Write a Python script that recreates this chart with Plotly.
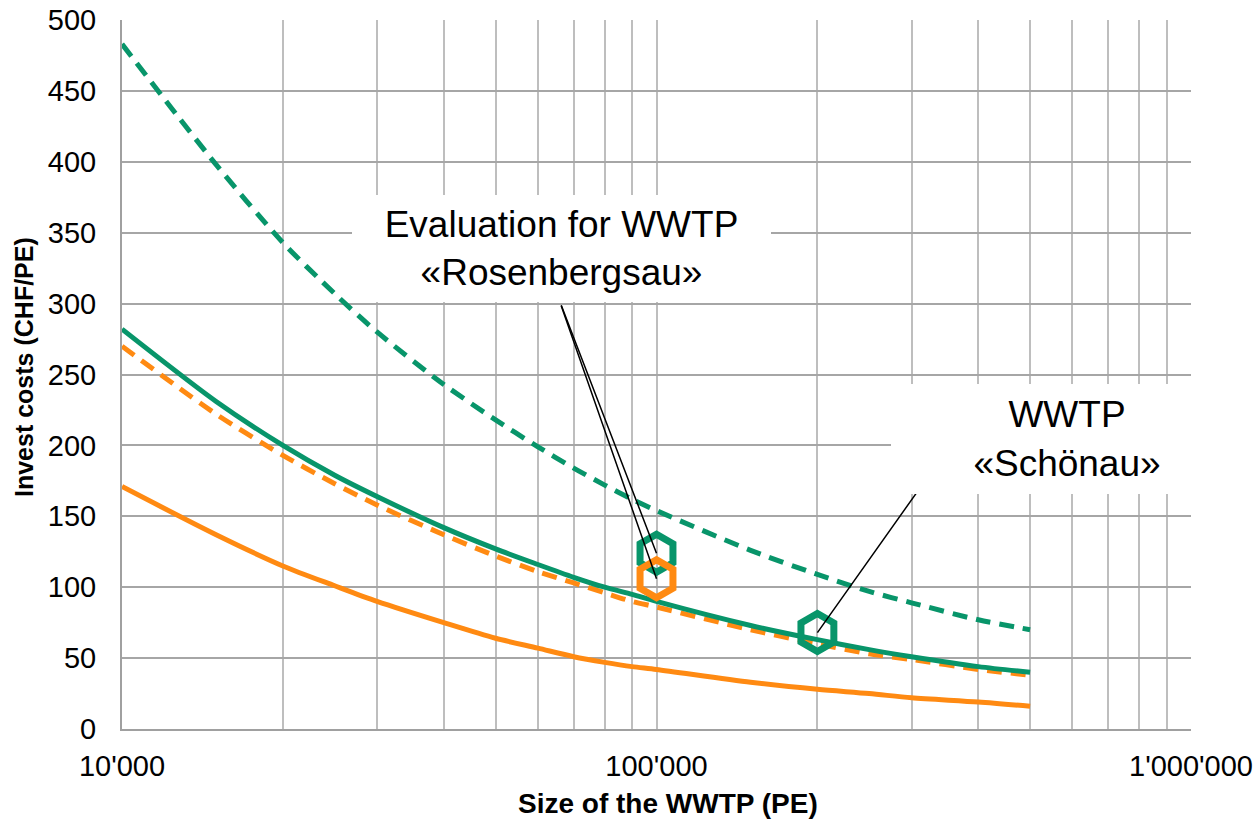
import math
import plotly.graph_objects as go

# Plant size (PE)
size_pe = [10000, 15000, 20000, 25000, 30000, 40000, 50000, 60000, 70000, 80000,
           90000, 100000, 150000, 200000, 250000, 300000, 400000, 500000]

# Invest costs (CHF/PE)
green_dashed = [483, 398, 343, 307, 280, 243, 218, 199, 184, 172, 162, 154, 126, 109, 97, 89, 77, 70]
green_solid = [282, 231, 200, 179, 164, 142, 127, 116, 107, 100, 95, 90, 73, 63, 56, 51, 44, 40]
orange_dashed = [270, 222, 193, 173, 158, 137, 122, 111, 103, 96, 90, 86, 70, 60, 53, 49, 42, 38]
orange_solid = [171, 137, 115, 101, 90, 75, 64, 57, 51, 47, 44, 42, 33, 28, 25, 22, 19, 16]

# Evaluated plants
rosen_size = 100000
rosen_green = 124
rosen_orange = 106
schoenau_size = 200000
schoenau_green = 68

x_tickvals = [10000, 100000, 1000000]
x_ticktext = ["10'000", "100'000", "1'000'000"]

GREEN = "#08956A"
ORANGE = "#FF8A12"
FONT = "Liberation Sans, Arial, sans-serif"

fig = go.Figure()

fig.add_trace(go.Scatter(x=size_pe, y=green_dashed, mode="lines",
                         line=dict(color=GREEN, width=5, dash="15px,9px", shape="spline", smoothing=0.8),
                         showlegend=False))
fig.add_trace(go.Scatter(x=size_pe, y=orange_dashed, mode="lines",
                         line=dict(color=ORANGE, width=5, dash="15px,9px", shape="spline", smoothing=0.8),
                         showlegend=False))
fig.add_trace(go.Scatter(x=size_pe, y=green_solid, mode="lines",
                         line=dict(color=GREEN, width=5, shape="spline", smoothing=0.8), showlegend=False))
fig.add_trace(go.Scatter(x=size_pe, y=orange_solid, mode="lines",
                         line=dict(color=ORANGE, width=5, shape="spline", smoothing=0.8), showlegend=False))

fig.add_trace(go.Scatter(x=[rosen_size, schoenau_size], y=[rosen_green, schoenau_green], mode="markers",
                         marker=dict(symbol="hexagon", size=38, color="rgba(0,0,0,0)",
                                     line=dict(width=7, color=GREEN)), showlegend=False))
fig.add_trace(go.Scatter(x=[rosen_size], y=[rosen_orange], mode="markers",
                         marker=dict(symbol="hexagon", size=38, color="rgba(0,0,0,0)",
                                     line=dict(width=7, color=ORANGE)), showlegend=False))

# connector lines (no arrowheads)
for (xv, yv, ax, ay) in [(rosen_size, rosen_green, -96, -250),
                         (rosen_size, rosen_orange, -96, -275),
                         (schoenau_size, schoenau_green, 122, -172)]:
    fig.add_annotation(x=math.log10(xv), y=yv, xref="x", yref="y", text=" ",
                       font=dict(size=1), showarrow=True, arrowhead=0, arrowwidth=1.5,
                       arrowcolor="black", ax=ax, ay=ay, standoff=0, startstandoff=0)

# text boxes
fig.add_annotation(xref="paper", yref="paper", x=(561.5 - 122) / 1069, y=(729 - 248.5) / 709,
                   xanchor="center", yanchor="middle",
                   text="Evaluation for WWTP<br>«Rosenbergsau»", showarrow=False,
                   font=dict(family=FONT, size=37, color="black"),
                   bgcolor="white", width=419, height=107, borderpad=0, borderwidth=0)
fig.add_annotation(xref="paper", yref="paper", x=(1067 - 122) / 1069, y=(729 - 438.5) / 709,
                   xanchor="center", yanchor="middle",
                   text="WWTP<br>«Schönau»", showarrow=False,
                   font=dict(family=FONT, size=37, color="black"),
                   bgcolor="white", width=352, height=110, borderpad=0, borderwidth=0)

# axis titles
fig.add_annotation(xref="paper", yref="paper", x=(668 - 122) / 1069, y=(729 - 803) / 709,
                   xanchor="center", yanchor="middle", showarrow=False,
                   text="<b>Size of the WWTP (PE)</b>",
                   font=dict(family=FONT, size=28, color="black"))
fig.add_annotation(xref="paper", yref="paper", x=(24 - 122) / 1069, y=(729 - 367) / 709,
                   xanchor="center", yanchor="middle", showarrow=False, textangle=-90,
                   text="<b>Invest costs (CHF/PE)</b>",
                   font=dict(family=FONT, size=25, color="black"))

fig.update_layout(
    width=1257, height=821,
    margin=dict(l=122, r=66, t=20, b=92),
    paper_bgcolor="white", plot_bgcolor="white",
    font=dict(family=FONT, size=29, color="black"),
    xaxis=dict(type="log", range=[4, 6], tickvals=x_tickvals, ticktext=x_ticktext,
               showgrid=True, gridcolor="#BEBEBE", gridwidth=2,
               minor=dict(dtick="D1", showgrid=True, gridcolor="#BEBEBE", gridwidth=2),
               showline=True, linecolor="#A0A0A0", linewidth=2, automargin=False,
               ticks="", ticklabelstandoff=10, zeroline=False,
               tickfont=dict(family=FONT, size=29, color="black")),
    yaxis=dict(range=[0, 500], dtick=50, showgrid=True, gridcolor="#A6A6A6", gridwidth=2,
               showline=True, linecolor="#A0A0A0", linewidth=2, automargin=False,
               ticks="", ticklabelstandoff=18, zeroline=False,
               tickfont=dict(family=FONT, size=29, color="black")),
)

fig.write_html("out.html")
